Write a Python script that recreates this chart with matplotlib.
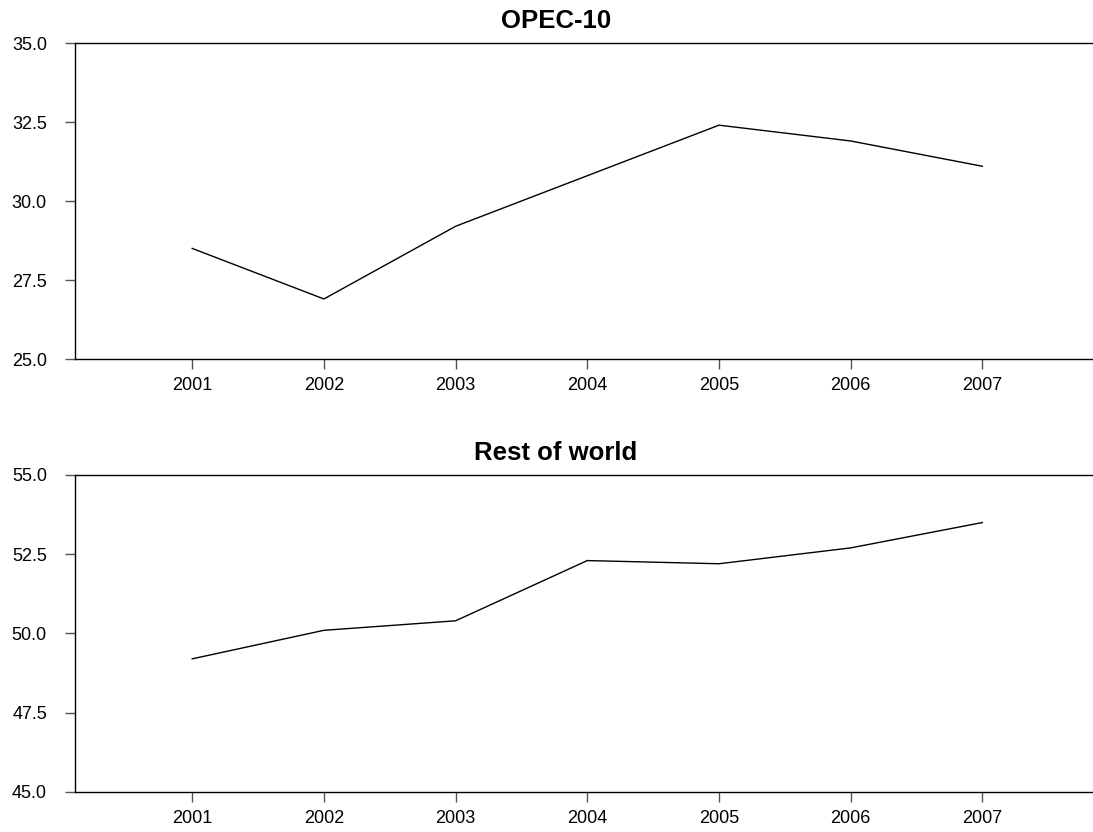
import matplotlib
matplotlib.use("Agg")
import matplotlib.pyplot as plt

plt.rcParams['font.family'] = ['Liberation Sans', 'DejaVu Sans']

anios = [2001, 2002, 2003, 2004, 2005, 2006, 2007]
opec = [28.5, 26.9, 29.2, 30.8, 32.4, 31.9, 31.1]
resto = [49.2, 50.1, 50.4, 52.3, 52.2, 52.7, 53.5]

titulos = ["OPEC-10", "Rest of world"]
limites = [(25, 35), (45, 55)]
pasos = [[25.0, 27.5, 30.0, 32.5, 35.0], [45.0, 47.5, 50.0, 52.5, 55.0]]

fig = plt.figure(figsize=(10.93, 8.32), dpi=100)
ax1 = fig.add_axes([0.0686, 0.5685, 0.9314, 0.3798])
ax2 = fig.add_axes([0.0686, 0.0481, 0.9314, 0.3810])

for ax, serie, titulo, lim, ticks in zip([ax1, ax2], [opec, resto], titulos, limites, pasos):
    ax.plot(anios, serie, color="black", linewidth=1)
    ax.set_xlim(2000.11, 2007.84)
    ax.set_ylim(*lim)
    ax.set_xticks(anios)
    ax.set_yticks(ticks)
    ax.set_yticklabels(["%.1f" % t for t in ticks])
    ax.spines['right'].set_visible(False)
    for s in ['left', 'top', 'bottom']:
        ax.spines[s].set_linewidth(1)
    ax.tick_params(axis='y', length=7.2, width=1, pad=13, labelsize=13, color="#555555")
    ax.tick_params(axis='x', length=7.2, width=1, pad=6, labelsize=13, color="#555555")
    ax.set_title(titulo, fontsize=18.5, fontweight="bold", pad=11, x=0.4725)

fig.savefig("out.png", dpi=100)
